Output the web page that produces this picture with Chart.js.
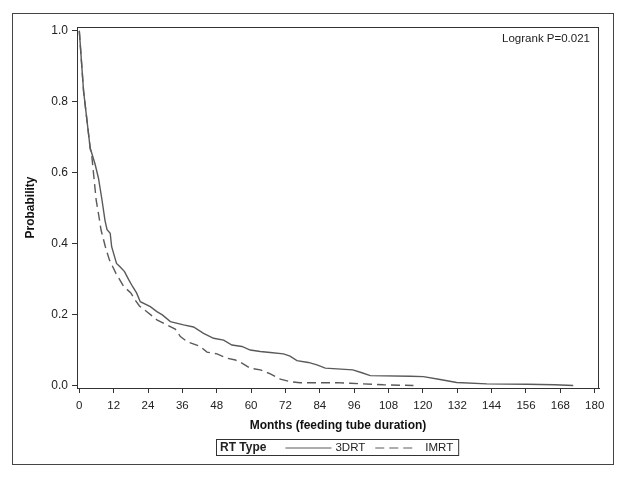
<!DOCTYPE html>
<html>
<head>
<meta charset="utf-8">
<script src="https://cdn.jsdelivr.net/npm/chart.js@4"></script>
<style>
html,body{margin:0;padding:0;background:#fff;}
#wrap{width:623px;height:478px;position:relative;}
</style>
</head>
<body>
<div id="wrap"><canvas id="c" width="623" height="478"></canvas></div>
<script>
// Data (months, survival probability)
const months3DRT = [0,1.5,3.8,5.5,6.7,7.9,9.0,9.7,10.8,11.3,13.0,14.3,15.8,17.2,18.6,20.0,21.3,24.8,27.1,29,31.8,36.4,39.9,43.4,46.9,50.4,53.3,56.8,59.7,63.2,66.7,71.3,73.6,76,80,83,85.9,95.5,98.7,101.6,115.5,120.2,126,131.8,142.3,156.3,166,172.5];
const prob3DRT   = [1.0,0.83,0.67,0.625,0.585,0.525,0.465,0.44,0.43,0.392,0.345,0.335,0.322,0.3,0.28,0.262,0.237,0.223,0.209,0.2,0.181,0.172,0.166,0.148,0.134,0.129,0.115,0.111,0.101,0.097,0.094,0.09,0.084,0.071,0.066,0.059,0.05,0.045,0.037,0.029,0.027,0.026,0.018,0.0094,0.0056,0.0047,0.003,0.001];
const monthsIMRT = [0,1.5,3.8,4.4,5.2,5.9,6.8,7.6,9.1,10.5,12.8,15.5,18.0,19.5,21.0,23.6,27.1,30.6,33.5,35.3,37.6,42.2,44.6,48.1,51.6,54.5,56.8,59.7,63.2,66.7,70.2,73.6,77.1,89.9,94.6,106.2,116.7];
const probIMRT   = [1.0,0.83,0.67,0.645,0.58,0.523,0.48,0.439,0.392,0.355,0.317,0.28,0.262,0.242,0.225,0.209,0.186,0.172,0.16,0.139,0.125,0.111,0.095,0.09,0.078,0.073,0.064,0.05,0.045,0.034,0.019,0.012,0.009,0.009,0.0075,0.003,0.001];
const xTicks = [0,12,24,36,48,60,72,84,96,108,120,132,144,156,168,180];
const yTicks = [0.0,0.2,0.4,0.6,0.8,1.0];
const seriesLabels = ['3DRT','IMRT'];
const legendTitle = 'RT Type';
const annotationText = 'Logrank P=0.021';
const xTitle = 'Months (feeding tube duration)';
const yTitle = 'Probability';

const LINE = '#5a5a5a';
const FONT = 'Liberation Sans, Arial, sans-serif';

function pts(xs, ys){ return xs.map((x,i)=>({x:x,y:ys[i]})); }

const framePlugin = {
  id:'frame',
  beforeDraw(chart){
    const ctx = chart.ctx;
    ctx.save();
    ctx.fillStyle = '#ffffff';
    ctx.fillRect(0,0,chart.width,chart.height);
    ctx.strokeStyle = '#444';
    ctx.lineWidth = 1;
    ctx.strokeRect(12.5,13.5,601,451);
    ctx.restore();
  },
  afterDraw(chart){
    const ctx = chart.ctx;
    const a = chart.chartArea;
    ctx.save();
    ctx.strokeStyle = '#333';
    ctx.lineWidth = 1;
    ctx.strokeRect(Math.round(a.left)+0.5, Math.round(a.top)+0.5, Math.round(a.right-a.left)-1, Math.round(a.bottom-a.top));
    // annotation
    ctx.fillStyle = '#222';
    ctx.font = '11.5px ' + FONT;
    ctx.textAlign = 'right';
    ctx.textBaseline = 'middle';
    ctx.fillText(annotationText, a.right - 9, a.top + 12);
    // legend
    const ds = chart.data.datasets;
    const y = 447.5;
    let x = 220;
    ctx.textAlign = 'left';
    ctx.font = 'bold 12px ' + FONT;
    ctx.fillText(legendTitle, x, y);
    x += ctx.measureText(legendTitle).width + 19;
    ctx.font = '11.5px ' + FONT;
    ds.forEach((d,i)=>{
      ctx.strokeStyle = d.borderColor;
      ctx.lineWidth = 1;
      ctx.setLineDash(d.borderDash || []);
      ctx.beginPath();
      ctx.moveTo(x, y+0.5);
      ctx.lineTo(x + (i===0?46:40), y+0.5);
      ctx.stroke();
      ctx.setLineDash([]);
      x += (i===0?50:50);
      ctx.fillText(d.label, x, y);
      x += ctx.measureText(d.label).width + 10;
    });
    ctx.strokeStyle = '#333';
    ctx.strokeRect(216.5, 439.5, x - 5 - 216, 16);
    ctx.restore();
  }
};

new Chart(document.getElementById('c'), {
  type:'line',
  data:{
    datasets:[
      {label:seriesLabels[0], data:pts(months3DRT,prob3DRT), borderColor:LINE, borderWidth:1.4, pointRadius:0, tension:0, fill:false},
      {label:seriesLabels[1], data:pts(monthsIMRT,probIMRT), borderColor:LINE, borderWidth:1.4, borderDash:[9,5], pointRadius:0, tension:0, fill:false}
    ]
  },
  options:{
    responsive:false,
    animation:false,
    events:[],
    layout:{padding:{top:27,right:24,left:0,bottom:0}},
    plugins:{legend:{display:false}, tooltip:{enabled:false}},
    scales:{
      x:{
        type:'linear', min:-0.8, max:181.5,
        afterBuildTicks(s){ s.ticks = xTicks.map(v=>({value:v})); },
        afterFit(s){ s.height = 90; },
        grid:{drawOnChartArea:false, drawTicks:true, tickLength:5, color:'#333'},
        border:{display:true, color:'#333'},
        ticks:{color:'#222', font:{family:FONT, size:11.5}, padding:6, maxRotation:0, autoSkip:false},
        title:{display:true, text:xTitle, color:'#111', font:{family:FONT, size:12, weight:'bold'}, padding:{top:0,bottom:45}}
      },
      y:{
        type:'linear', min:-0.006, max:1.011,
        afterBuildTicks(s){ s.ticks = yTicks.map(v=>({value:v})); },
        afterFit(s){ s.width = 77; },
        grid:{drawOnChartArea:false, drawTicks:true, tickLength:5, color:'#333'},
        border:{display:true, color:'#333'},
        ticks:{color:'#222', font:{family:FONT, size:12}, padding:4, callback:v=>Number(v).toFixed(1)},
        title:{display:true, text:yTitle, color:'#111', font:{family:FONT, size:12, weight:'bold'}, padding:{top:23,bottom:0}}
      }
    }
  },
  plugins:[framePlugin]
});
</script>
</body>
</html>
